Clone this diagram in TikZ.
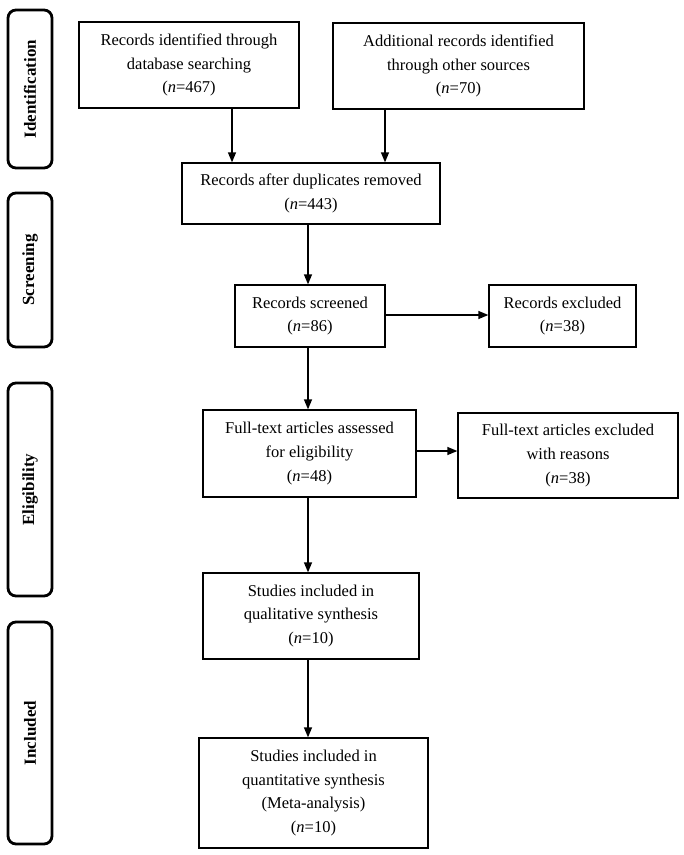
\documentclass[tikz,border=0pt]{standalone}
\usepackage{fontspec}
\setmainfont{Liberation Serif}
\usetikzlibrary{arrows.meta}
\newcommand\boxfont{\fontsize{16.5}{23.7}\selectfont}
\newcommand\stagefont{\fontsize{17}{20}\selectfont\bfseries}
\tikzset{
  box/.style={draw, line width=1.3pt, align=center, inner sep=0pt, font=\boxfont},
  stage/.style={draw, line width=2.8pt, rounded corners=8pt, inner sep=0pt, rotate=90, minimum height=44pt, font=\stagefont},
  arr/.style={line width=1.3pt, -{Triangle[length=10pt,width=8pt]}}
}
\begin{document}
\begin{tikzpicture}[x=1pt,y=-1pt]
\useasboundingbox (0,0) rectangle (684,855);
% stages
\node[stage, minimum width=158pt] (s1) at (30,89) {Identification};
\node[stage, minimum width=154pt] (s2) at (30,270) {Screening};
\node[stage, minimum width=213pt] (s3) at (30,489.5) {Eligibility};
\node[stage, minimum width=222pt] (s4) at (30,733) {Included};
% boxes
\node[box, minimum width=220pt, minimum height=86pt] (b1) at (189,65) {Records identified through\\database searching\\(\textit{n}=467)};
\node[box, minimum width=251pt, minimum height=86pt] (b2) at (458.5,66) {Additional records identified\\through other sources\\(\textit{n}=70)};
\node[box, minimum width=258pt, minimum height=61pt] (b3) at (311,193.5) {Records after duplicates removed\\(\textit{n}=443)};
\node[box, minimum width=150pt, minimum height=62pt] (b4) at (310,316) {Records screened\\(\textit{n}=86)};
\node[box, minimum width=147pt, minimum height=62pt] (b5) at (562.5,316) {Records excluded\\(\textit{n}=38)};
\node[box, minimum width=213pt, minimum height=87pt] (b6) at (309.5,453.5) {Full-text articles assessed\\for eligibility\\(\textit{n}=48)};
\node[box, minimum width=220pt, minimum height=85pt] (b7) at (568,455.5) {Full-text articles excluded\\with reasons\\(\textit{n}=38)};
\node[box, minimum width=216pt, minimum height=86pt] (b8) at (311,616) {Studies included in\\qualitative synthesis\\(\textit{n}=10)};
\node[box, minimum width=229pt, minimum height=110pt] (b9) at (313.5,793) {Studies included in\\quantitative synthesis\\(Meta-analysis)\\(\textit{n}=10)};
% guide coordinates
\coordinate (xa) at (232,0);
\coordinate (xb) at (385,0);
\coordinate (xc) at (308,0);
\coordinate (ya) at (0,315);
\coordinate (yb) at (0,451);
% connectors
\draw[arr] (b1.south -| xa) -- (b3.north -| xa);
\draw[arr] (b2.south -| xb) -- (b3.north -| xb);
\draw[arr] (b3.south -| xc) -- (b4.north -| xc);
\draw[arr] (b4.east |- ya) -- (b5.west |- ya);
\draw[arr] (b4.south -| xc) -- (b6.north -| xc);
\draw[arr] (b6.east |- yb) -- (b7.west |- yb);
\draw[arr] (b6.south -| xc) -- (b8.north -| xc);
\draw[arr] (b8.south -| xc) -- (b9.north -| xc);
\end{tikzpicture}
\end{document}
